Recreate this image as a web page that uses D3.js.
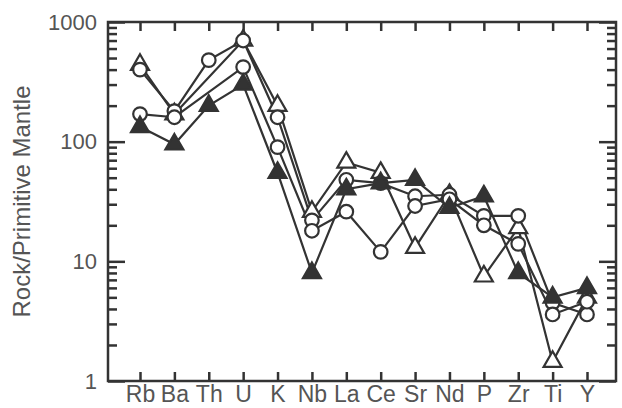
<!DOCTYPE html>
<html>
<head>
<meta charset="utf-8">
<script src="https://cdn.jsdelivr.net/npm/d3@7"></script>
<style>
  body { margin: 0; background: #fff; }
  text { font-family: "Liberation Sans", Arial, sans-serif; fill: #555; }
</style>
</head>
<body>
<svg id="chart" width="622" height="408"></svg>
<script>
// element order on the spider diagram
const elements = ["Rb", "Ba", "Th", "U", "K", "Nb", "La", "Ce", "Sr", "Nd", "P", "Zr", "Ti", "Y"];

// rock / primitive mantle values (null = not analysed)
const triOpen   = [440, 170, null, 700, 200, 26, 67, 55, 13, 36, 7.5, 19, 1.45, 5];
const circHigh  = [400, 180, 480, 700, 160, 22, 48, 45, 35, 36, 24, 24, 4.5, 3.6];
const circLow   = [170, 160, null, 420, 90, 18, 26, 12, 29, 33, 20, 14, 3.6, 4.6];
const triFilled = [133, 95, 200, 300, 55, 8, 40, 45, 48, 28, 35, 8, 5, 6];

const yMajor = [1, 10, 100, 1000];
const yTitle = "Rock/Primitive Mantle";

let svg = d3.select("#chart");
let frame = {left: 108, right: 616, top: 22, bottom: 381};
let ink = "#333";

let x = d3.scalePoint().domain(elements).range([140, 587]);
let y = d3.scaleLog().domain([1, 1000]).range([frame.bottom, frame.top]);

let yMinor = [];
for (let d = 1; d < 1000; d *= 10) {
    for (let k = 2; k <= 9; k++) yMinor.push(d * k);
}

// left axis: majors with labels, minors without
svg.append("g").attr("transform", `translate(${frame.left},0)`)
    .call(d3.axisLeft(y).tickValues(yMinor).tickSizeInner(-9).tickSizeOuter(0).tickFormat(""))
    .call(g => g.select(".domain").remove());
svg.append("g").attr("transform", `translate(${frame.left},0)`)
    .call(d3.axisLeft(y).tickValues(yMajor).tickSizeInner(-17).tickSizeOuter(0).tickPadding(11).tickFormat(d3.format("d")))
    .call(g => g.select(".domain").remove())
    .call(g => g.selectAll("text").style("font-size", "22px").style("fill", "#555"));

// right axis, ticks only
svg.append("g").attr("transform", `translate(${frame.right},0)`)
    .call(d3.axisRight(y).tickValues(yMinor).tickSizeInner(-9).tickSizeOuter(0).tickFormat(""))
    .call(g => g.select(".domain").remove());
svg.append("g").attr("transform", `translate(${frame.right},0)`)
    .call(d3.axisRight(y).tickValues(yMajor).tickSizeInner(-17).tickSizeOuter(0).tickFormat(""))
    .call(g => g.select(".domain").remove());

// bottom axis with element names, top axis ticks only
svg.append("g").attr("transform", `translate(0,${frame.bottom})`)
    .call(d3.axisBottom(x).tickSizeInner(-9).tickSizeOuter(0).tickPadding(5))
    .call(g => g.select(".domain").remove())
    .call(g => g.selectAll("text").style("font-size", "23px").style("fill", "#555"));
svg.append("g").attr("transform", `translate(0,${frame.top})`)
    .call(d3.axisTop(x).tickSizeInner(-9).tickSizeOuter(0).tickFormat(""))
    .call(g => g.select(".domain").remove());

svg.selectAll(".tick line").attr("stroke", ink).attr("stroke-width", 2.5);

svg.append("rect")
    .attr("x", frame.left).attr("y", frame.top)
    .attr("width", frame.right - frame.left).attr("height", frame.bottom - frame.top)
    .attr("fill", "none").attr("stroke", ink).attr("stroke-width", 2.5);

svg.append("text")
    .attr("transform", `translate(30,${(frame.top + frame.bottom) / 2}) rotate(-90)`)
    .attr("text-anchor", "middle")
    .style("font-size", "24px")
    .text(yTitle);

let series = [
    {values: triOpen, shape: "tri", fill: "#fff"},
    {values: circHigh, shape: "circ", fill: "#fff"},
    {values: circLow, shape: "circ", fill: "#fff"},
    {values: triFilled, shape: "tri", fill: ink}
];

let line = d3.line().x(d => x(d.el)).y(d => y(d.v));

series.forEach(s => {
    s.points = elements.map((el, i) => ({el: el, v: s.values[i]})).filter(d => d.v != null);
});

// lines under all markers
svg.append("g").selectAll("path").data(series).join("path")
    .attr("d", d => line(d.points))
    .attr("fill", "none").attr("stroke", ink).attr("stroke-width", 2.2);

let triangle = d3.symbol(d3.symbolTriangle, 140);

series.forEach(s => {
    let g = svg.append("g");
    if (s.shape == "circ") {
        g.selectAll("circle").data(s.points).join("circle")
            .attr("cx", d => x(d.el)).attr("cy", d => y(d.v)).attr("r", 6.8)
            .attr("fill", s.fill).attr("stroke", ink).attr("stroke-width", 2.2);
    } else {
        g.selectAll("path").data(s.points).join("path")
            .attr("d", triangle)
            .attr("transform", d => `translate(${x(d.el)},${y(d.v)})`)
            .attr("fill", s.fill).attr("stroke", ink).attr("stroke-width", 2.2);
    }
});
</script>
</body>
</html>
